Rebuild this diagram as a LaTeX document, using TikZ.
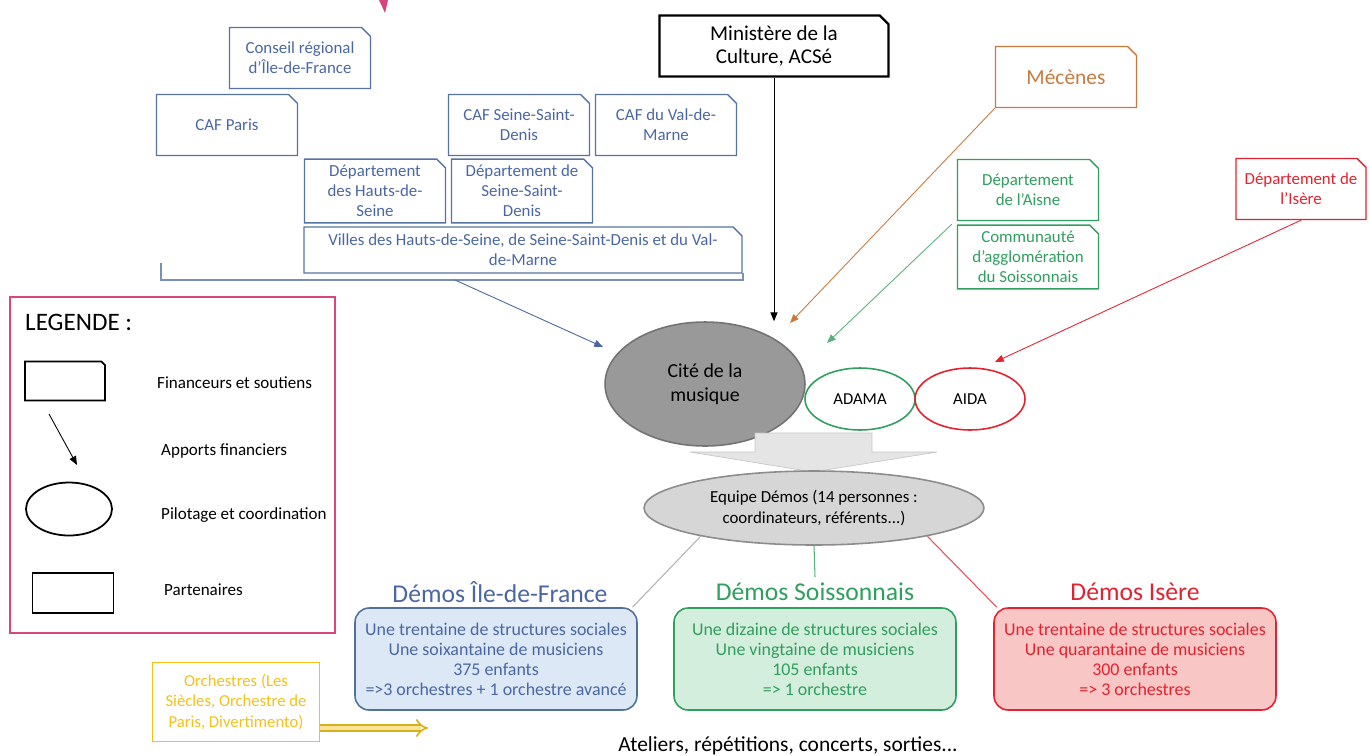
\documentclass[tikz,border=0pt]{standalone}
\usepackage{fontspec}
\setmainfont{Carlito}
\usetikzlibrary{positioning, shapes.geometric, shapes.misc}
\usetikzlibrary {arrows.meta}

\definecolor{finblue}{HTML}{5673A5}
\definecolor{fintext}{HTML}{4A67A2}
\definecolor{mecorange}{HTML}{C97A3E}
\definecolor{aisgreen}{HTML}{2F9E5E}
\definecolor{isered}{HTML}{E2232F}
\definecolor{legpink}{HTML}{D9467D}
\definecolor{orchyellow}{HTML}{F2C21A}
\definecolor{idffill}{HTML}{DCE8F6}
\definecolor{idfdraw}{HTML}{51719C}
\definecolor{soisfill}{HTML}{D4EEDD}
\definecolor{isefill}{HTML}{F9C6C6}

\begin{document}
\begin{tikzpicture}[x=0.02cm, y=-0.02cm,
    fin/.style={chamfered rectangle, chamfered rectangle corners=north east,
      chamfered rectangle xsep=2.5pt, chamfered rectangle ysep=2.5pt,
      draw, line width=0.8pt, align=center, inner sep=1pt,
      minimum width=2.82cm, minimum height=1.22cm,
      font=\fontsize{9.6}{11.3}\selectfont},
    pilot/.style={ellipse, draw, line width=0.9pt, align=center, inner sep=0pt},
    demos/.style={rectangle, rounded corners=8pt, draw, line width=0.9pt, align=center,
      minimum width=5.64cm, minimum height=2.04cm, font=\fontsize{10.2}{11.4}\selectfont},
    demotitle/.style={font=\fontsize{14.6}{16}\selectfont},
    fund/.style={-{Triangle[length=5pt,width=4pt]}, line width=0.5pt},
    legtext/.style={anchor=west, font=\fontsize{9.7}{11}\selectfont}]
  \useasboundingbox (0,0) rectangle (1370,755);

  % coin rose en haut
  \fill[legpink] (379,0) -- (388,0) -- (385,13) -- cycle;

  % financeurs Ile-de-France
  \node[fin, draw=finblue, text=fintext] (conseil) at (300,58) {Conseil régional\\d’Île-de-France};
  \node[fin, draw=finblue, text=fintext] (cafparis) at (227,125) {CAF Paris};
  \node[fin, draw=finblue, text=fintext] (cafssd) at (519,125) {CAF Seine-Saint-\\Denis};
  \node[fin, draw=finblue, text=fintext] (cafvdm) at (666,125) {CAF du Val-de-\\Marne};
  \node[fin, draw=finblue, text=fintext] (dephds) at (375,191) {Département\\des Hauts-de-\\Seine};
  \node[fin, draw=finblue, text=fintext] (depssd) at (522,191) {Département de\\Seine-Saint-\\Denis};
  \node[fin, draw=finblue, text=fintext, minimum width=8.76cm, minimum height=0.92cm] (villes) at (523,250)
    {Villes des Hauts-de-Seine, de Seine-Saint-Denis et du Val-\\de-Marne};
  \draw[finblue!80, line width=0.8pt] (161,263) -- (161,280) -- (743,280) -- (743,273);
  \coordinate (brk) at (455,280);

  % autres financeurs
  \node[fin, draw=black, line width=1.3pt, minimum width=4.58cm, font=\fontsize{12}{13.6}\selectfont] (ministere) at (774,46) {Ministère de la\\Culture, ACSé};
  \node[fin, draw=mecorange, text=mecorange, font=\fontsize{12.2}{14}\selectfont] (mecenes) at (1066,77) {Mécènes};
  \node[fin, draw=aisgreen, text=aisgreen] (aisne) at (1028,190) {Département\\de l’Aisne};
  \node[fin, draw=aisgreen, text=aisgreen] (comm) at (1028,257) {Communauté\\d’agglomération\\du Soissonnais};
  \node[fin, draw=isered, text=isered, minimum width=2.6cm] (isere) at (1301,189) {Département de\\l’Isère};

  % pilotage
  \node[pilot, fill=black!40, draw=black!55, minimum width=4cm, minimum height=2.48cm,
    font=\fontsize{11.3}{14}\selectfont] (cite) at (705,384) {Cité de la\\musique};
  \node[pilot, draw=aisgreen, minimum width=2.2cm, minimum height=1.24cm,
    font=\fontsize{9.5}{11}\selectfont] (adama) at (860,399) {ADAMA};
  \node[pilot, draw=isered, minimum width=2.2cm, minimum height=1.24cm,
    font=\fontsize{9.5}{11}\selectfont] (aida) at (970,399) {AIDA};
  \draw[fill=black!10, draw=black!22] (755,433) -- (872,433) -- (872,452) -- (937,452)
    -- (813,472) -- (690,452) -- (755,452) -- cycle;
  \node[pilot, fill=black!16, draw=black!45, minimum width=6.8cm, minimum height=1.48cm,
    font=\fontsize{9.6}{12.5}\selectfont] (equipe) at (814,508) {Equipe Démos (14 personnes :\\coordinateurs, référents...)};

  % apports financiers
  \coordinate (tipblue) at (603,347);
  \coordinate (tiporange) at (790,323);
  \coordinate (tipgreen) at (827,343);
  \coordinate (tipred) at (995,362);
  \draw[fund, draw=fintext] (brk) -- (tipblue);
  \draw[fund] (ministere.south) -- (ministere.south |- cite.north);
  \draw[fund, draw=mecorange] (mecenes.south west) -- (tiporange);
  \draw[fund, draw=aisgreen!80] ([shift={(-5,3)}]aisne.south west) -- (tipgreen);
  \draw[fund, draw=isered] (isere.south) -- (tipred);

  % les trois Demos
  \node[demos, fill=idffill, draw=idfdraw, text=fintext] (idf) at (496,659)
    {Une trentaine de structures sociales\\Une soixantaine de musiciens\\375 enfants\\=>3 orchestres + 1 orchestre avancé};
  \node[demos, fill=soisfill, draw=aisgreen, text=aisgreen] (sois) at (815,659)
    {Une dizaine de structures sociales\\Une vingtaine de musiciens\\105 enfants\\=> 1 orchestre};
  \node[demos, fill=isefill, draw=isered, text=isered] (ise) at (1135,659)
    {Une trentaine de structures sociales\\Une quarantaine de musiciens\\300 enfants\\=> 3 orchestres};
  \node[demotitle, text=fintext] (idft) at (500,592) {Démos Île-de-France};
  \node[demotitle, text=aisgreen] (soist) at (815,592) {Démos Soissonnais};
  \node[demotitle, text=isered] (iset) at (1135,592) {Démos Isère};
  \draw[black!30, line width=0.6pt] (equipe.194) -- ([xshift=-3pt]idf.north east);
  \draw[aisgreen!80, line width=0.6pt] (equipe.south) -- (soist.north);
  \draw[isered!80, line width=0.6pt] (equipe.-14) -- ([xshift=2pt]ise.north west);

  % orchestres
  \node[draw=orchyellow, line width=0.9pt, text=orchyellow, align=center, minimum width=3.34cm,
    minimum height=1.58cm, font=\fontsize{9.5}{11.5}\selectfont] (orch) at (236,702)
    {Orchestres (Les\\Siècles, Orchestre de\\Paris, Divertimento)};
  \coordinate (orchtip) at (428,728);
  \draw[orchyellow!90!black, double=orchyellow!45, double distance=2.6pt, line width=0.9pt, -{Implies}]
    (orch.east |- orchtip) -- (orchtip);
  \node[font=\fontsize{12.2}{14}\selectfont] (ateliers) at (788,746) {Ateliers, répétitions, concerts, sorties...};

  % legende
  \draw[legpink, line width=0.9pt] (10,297) rectangle (335,633);
  \node[anchor=west, font=\fontsize{14.3}{16}\selectfont] (legtitle) at (19,322) {LEGENDE :};
  \node[fin, draw=black, line width=1pt, minimum width=1.6cm, minimum height=0.78cm] (legfin) at (65,381) {};
  \coordinate (legA) at (49,414);
  \coordinate (legB) at (77,465);
  \draw[fund] (legA) -- (legB);
  \node[pilot, draw=black, line width=1pt, minimum width=1.72cm, minimum height=1.06cm] (legpil) at (69,509) {};
  \node[draw=black, line width=1pt, minimum width=1.62cm, minimum height=0.8cm] (legpart) at (73,593) {};
  \node[legtext] (legt1) at (151,383) {Financeurs et soutiens};
  \node[legtext] (legt2) at (155,451) {Apports financiers};
  \node[legtext] (legt3) at (155,515) {Pilotage et coordination};
  \node[legtext] (legt4) at (158,590) {Partenaires};
\end{tikzpicture}
\end{document}
